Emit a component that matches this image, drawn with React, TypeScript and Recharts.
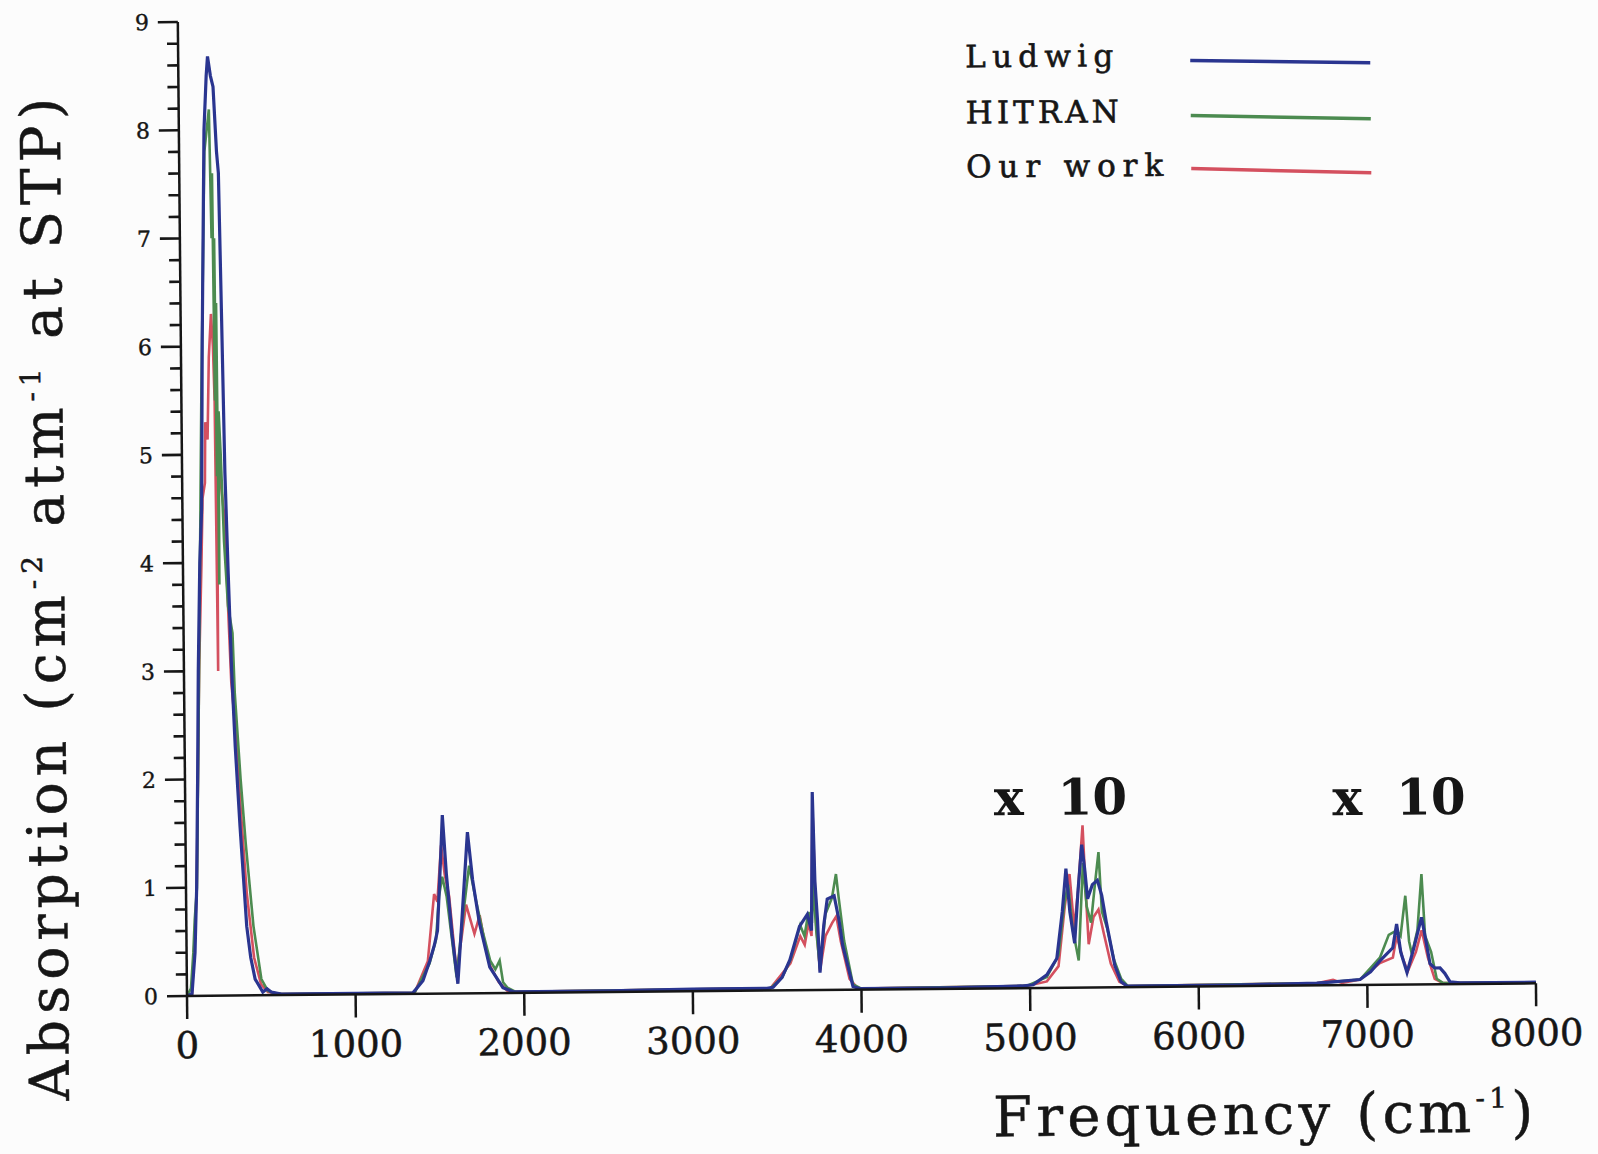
import React from 'react'
import { LineChart, Line, XAxis, YAxis, Legend, ReferenceDot } from 'recharts'

// [frequency cm^-1, absorption]
const ludwig: [number, number][] = [
  [0, 0], [30, 0.02], [50, 0.4], [63, 0.98], [75, 2.0], [85, 3.0], [100, 4.0], [114, 4.5], [127, 6.06],
  [149, 8.0], [165, 8.5], [174, 8.68], [190, 8.5], [205, 8.4], [222, 7.8], [232, 7.6], [243, 6.25],
  [254, 4.83], [268, 3.9], [283, 3.0], [300, 2.3], [324, 1.56], [358, 0.64], [380, 0.35], [405, 0.15],
  [450, 0.03], [475, 0.06], [500, 0.03], [560, 0.01], [1000, 0.01], [1340, 0.01],
  [1400, 0.12], [1441, 0.3], [1470, 0.45], [1489, 0.58], [1510, 1.2], [1524, 1.65], [1545, 1.1],
  [1575, 0.55], [1607, 0.09], [1640, 0.8], [1672, 1.49], [1700, 1.05], [1738, 0.65], [1797, 0.24],
  [1874, 0.05], [1935, 0.01], [2500, 0.01], [3000, 0.02], [3440, 0.02],
  [3476, 0.03], [3530, 0.12], [3577, 0.28], [3636, 0.59], [3683, 0.7], [3707, 0.55], [3719, 1.83],
  [3730, 1.0], [3743, 0.65], [3755, 0.16], [3780, 0.6], [3802, 0.84], [3843, 0.87], [3870, 0.65],
  [3891, 0.41], [3950, 0.03], [3990, 0.01], [4500, 0.01], [4950, 0.02],
  [5018, 0.03], [5100, 0.12], [5160, 0.27], [5195, 0.7], [5219, 1.1], [5240, 0.7], [5267, 0.41],
  [5290, 0.9], [5314, 1.32], [5330, 1.1], [5346, 0.82], [5375, 0.95], [5405, 0.99], [5430, 0.85],
  [5456, 0.6], [5504, 0.2], [5540, 0.05], [5575, 0.01], [6200, 0.01], [6700, 0.02],
  [6800, 0.03], [6957, 0.05], [7020, 0.12], [7076, 0.22], [7153, 0.34], [7177, 0.56], [7200, 0.3],
  [7236, 0.11], [7280, 0.35], [7325, 0.62], [7350, 0.4], [7373, 0.19], [7400, 0.15], [7432, 0.15],
  [7460, 0.1], [7491, 0.02], [7550, 0.01], [8000, 0.01],
]

const hitran: [number, number][] = [
  [0, 0], [24, 0.07], [40, 0.4], [50, 0.7], [65, 1.0], [90, 3.0], [118, 5.5], [150, 7.8], [179, 8.19],
  [188, 7.0], [194, 7.6], [199, 5.5], [203, 7.0], [207, 4.8], [211, 6.4], [215, 3.8], [220, 5.4],
  [230, 5.0], [245, 4.2], [265, 3.6], [290, 3.35], [300, 2.8], [330, 2.0], [357, 1.4], [398, 0.64],
  [442, 0.15], [480, 0.04], [520, 0.02], [560, 0.01], [1000, 0.01], [1350, 0.01],
  [1440, 0.28], [1480, 0.5], [1500, 0.9], [1520, 1.08], [1545, 0.9], [1600, 0.15], [1640, 0.7],
  [1680, 1.18], [1720, 0.85], [1760, 0.55], [1800, 0.3], [1830, 0.22], [1856, 0.3], [1875, 0.1],
  [1900, 0.05], [1950, 0.01], [3460, 0.02],
  [3530, 0.12], [3580, 0.28], [3640, 0.6], [3665, 0.5], [3690, 0.72], [3710, 0.62], [3719, 1.0],
  [3735, 0.55], [3755, 0.2], [3790, 0.7], [3830, 0.85], [3855, 1.07], [3870, 0.85], [3900, 0.45],
  [3950, 0.05], [4000, 0.01], [4980, 0.02],
  [5100, 0.1], [5170, 0.3], [5210, 0.8], [5232, 0.95], [5255, 0.55], [5290, 0.25], [5305, 0.7],
  [5320, 1.15], [5340, 0.75], [5365, 0.6], [5390, 0.95], [5413, 1.25], [5430, 0.7], [5460, 0.55],
  [5500, 0.25], [5540, 0.08], [5580, 0.01], [6700, 0.02],
  [6957, 0.05], [7076, 0.25], [7130, 0.46], [7177, 0.5], [7200, 0.45], [7230, 0.82], [7250, 0.4],
  [7266, 0.28], [7300, 0.5], [7327, 1.02], [7345, 0.45], [7380, 0.3], [7412, 0.05], [7450, 0.01],
  [8000, 0.01],
]

const ourWork: [number, number][] = [
  [0, 0], [30, 0.02], [63, 0.95], [90, 3.0], [110, 4.0], [120, 4.6], [135, 4.74], [140, 5.3],
  [153, 5.14], [165, 5.9], [180, 6.3], [190, 6.0], [197, 5.5], [203, 3.0], [208, 5.0], [225, 4.8],
  [250, 4.4], [265, 3.6], [280, 2.9], [300, 2.5], [330, 1.7], [360, 0.95], [400, 0.35], [440, 0.1],
  [480, 0.03], [560, 0.01], [1350, 0.01],
  [1430, 0.3], [1471, 0.92], [1490, 0.85], [1515, 1.37], [1535, 1.1], [1560, 0.9], [1600, 0.2],
  [1630, 0.5], [1660, 0.82], [1690, 0.65], [1708, 0.55], [1740, 0.72], [1770, 0.45], [1800, 0.25],
  [1850, 0.1], [1900, 0.02], [1950, 0.01], [3460, 0.02],
  [3580, 0.25], [3640, 0.5], [3666, 0.42], [3690, 0.62], [3707, 0.5], [3719, 1.7], [3735, 0.6],
  [3755, 0.18], [3790, 0.5], [3830, 0.62], [3855, 0.68], [3880, 0.45], [3930, 0.1], [3980, 0.01],
  [4980, 0.02],
  [5100, 0.06], [5170, 0.2], [5210, 0.75], [5240, 1.05], [5265, 0.55], [5290, 0.9], [5320, 1.5],
  [5335, 0.9], [5350, 0.4], [5380, 0.65], [5410, 0.72], [5440, 0.5], [5480, 0.22], [5530, 0.05],
  [5580, 0.01], [6700, 0.02],
  [6797, 0.05], [6850, 0.02], [6957, 0.05], [7076, 0.2], [7153, 0.25], [7177, 0.45], [7210, 0.25],
  [7240, 0.12], [7290, 0.3], [7325, 0.5], [7360, 0.25], [7400, 0.05], [7450, 0.01], [8000, 0.01],
]

const xTicks = [0, 1000, 2000, 3000, 4000, 5000, 6000, 7000, 8000]
const yMajorTicks = [0, 1, 2, 3, 4, 5, 6, 7, 8, 9]
// "x 10" notes above the two weak bands (left edge frequency, baseline value)
const timesTen = [
  { f: 4795, v: 1.6 },
  { f: 6803, v: 1.57 },
]

const yTicks = yMajorTicks.flatMap((m) =>
  m === 9 ? [m] : [m, m + 0.2, m + 0.4, m + 0.6, m + 0.8].map((t) => Math.round(t * 10) / 10)
)

const toPoints = (pairs: [number, number][]) => pairs.map(([f, v]) => ({ f, v }))

const FONT = 'DejaVu Serif'
const INK = '#161616'

const legendRows = [
  { name: 'Ludwig', textY: 75, textLen: 148, y1: 70, y2: 74 },
  { name: 'HITRAN', textY: 131, textLen: 153, y1: 125, y2: 130 },
  { name: 'Our work', textY: 185, textLen: 197, y1: 178, y2: 184 },
]

// y ticks: 20px marks with labels on the integers, 11px marks every 0.2
const renderYTick = (props: any) => {
  const { x, y, payload } = props
  const major = Number.isInteger(payload.value)
  const len = major ? 20 : 11
  return (
    <g>
      <rect x={x - len} y={y - 1.3} width={len} height={2.6} fill={INK} />
      {major && (
        <text
          x={x - 29}
          y={y}
          dy="0.36em"
          textAnchor="end"
          fontFamily={FONT}
          fontSize={22}
          fill={INK}
          stroke={INK}
          strokeWidth={0.4}
        >
          {payload.value}
        </text>
      )}
    </g>
  )
}

const renderYLabel = () => (
  <text
    x={68}
    y={598}
    transform="rotate(-90 68 598)"
    textAnchor="middle"
    fontFamily={FONT}
    fontSize={55}
    fill={INK}
    stroke={INK}
    strokeWidth={0.5}
    textLength={1003}
    lengthAdjust="spacing"
  >
    Absorption (cm
    <tspan dy={-22} fontSize={28}>-2</tspan>
    <tspan dy={22}> atm</tspan>
    <tspan dy={-22} fontSize={28}>-1</tspan>
    <tspan dy={22}> at STP)</tspan>
  </text>
)

const renderXLabel = () => (
  <text
    x={1262}
    y={1144}
    textAnchor="middle"
    fontFamily={FONT}
    fontSize={56}
    fill={INK}
    stroke={INK}
    strokeWidth={0.5}
    textLength={540}
    lengthAdjust="spacing"
  >
    Frequency (cm
    <tspan dy={-24} fontSize={28}>-1</tspan>
    <tspan dy={24}>)</tspan>
  </text>
)

const renderTimesTen = (p: any) => (
  <text x={p.cx} y={p.cy} fontFamily={FONT} fontWeight="bold" fontSize={50} fill={INK}>
    x<tspan dx={34}>10</tspan>
  </text>
)

function LegendBox(props: any) {
  const payload = props.payload || []
  return (
    <svg width={1598} height={200}>
      {legendRows.map((r) => {
        const item = payload.find((p: any) => p.value === r.name)
        return (
          <g key={r.name}>
            <text
              x={974}
              y={r.textY}
              fontFamily={FONT}
              fontSize={31}
              fill={INK}
              stroke={INK}
              strokeWidth={0.6}
              textLength={r.textLen}
              lengthAdjust="spacing"
            >
              {r.name}
            </text>
            <line x1={1199} x2={1379} y1={r.y1} y2={r.y2} stroke={item ? item.color : INK} strokeWidth={3.5} />
          </g>
        )
      })}
    </svg>
  )
}

export default function App() {
  return (
    <div
      style={{
        position: 'fixed',
        left: 0,
        top: 0,
        width: 1598,
        height: 1154,
        overflow: 'hidden',
        background: '#fcfcfc',
      }}
    >
      <div style={{ position: 'absolute', left: 0, top: 0, transform: 'rotate(-0.54deg)', transformOrigin: '187px 996px' }}>
        <LineChart width={1598} height={1180} margin={{ top: 22, right: 62, bottom: 124, left: 0 }}>
          <XAxis
            type="number"
            dataKey="f"
            domain={[0, 8000]}
            ticks={xTicks}
            interval={0}
            allowDataOverflow
            height={60}
            tickSize={23}
            tickMargin={13}
            axisLine={{ stroke: INK, strokeWidth: 2.5 }}
            tickLine={{ stroke: INK, strokeWidth: 2.5 }}
            tick={{ fontSize: 37, fontFamily: FONT, fill: INK, stroke: INK, strokeWidth: 0.5 }}
            label={renderXLabel}
          />
          <YAxis
            type="number"
            domain={[0, 9]}
            ticks={yTicks}
            interval={0}
            allowDataOverflow
            width={187}
            tickSize={0}
            tickMargin={0}
            tickLine={false}
            axisLine={{ stroke: INK, strokeWidth: 2.5 }}
            tick={renderYTick}
            label={renderYLabel}
          />
          <Legend
            layout="horizontal"
            verticalAlign="middle"
            align="center"
            content={<LegendBox />}
            wrapperStyle={{ position: 'absolute', left: 0, top: 0, width: 1598, height: 200, margin: 0 }}
          />
          <Line
            data={toPoints(ourWork)}
            dataKey="v"
            name="Our work"
            type="linear"
            stroke="#d4505f"
            strokeWidth={2.6}
            dot={false}
            isAnimationActive={false}
          />
          <Line
            data={toPoints(hitran)}
            dataKey="v"
            name="HITRAN"
            type="linear"
            stroke="#4c8b50"
            strokeWidth={2.6}
            dot={false}
            isAnimationActive={false}
          />
          <Line
            data={toPoints(ludwig)}
            dataKey="v"
            name="Ludwig"
            type="linear"
            stroke="#2a3590"
            strokeWidth={3.2}
            dot={false}
            isAnimationActive={false}
          />
          {timesTen.map((t) => (
            <ReferenceDot key={t.f} x={t.f} y={t.v} r={0} shape={renderTimesTen} />
          ))}
        </LineChart>
      </div>
    </div>
  )
}
